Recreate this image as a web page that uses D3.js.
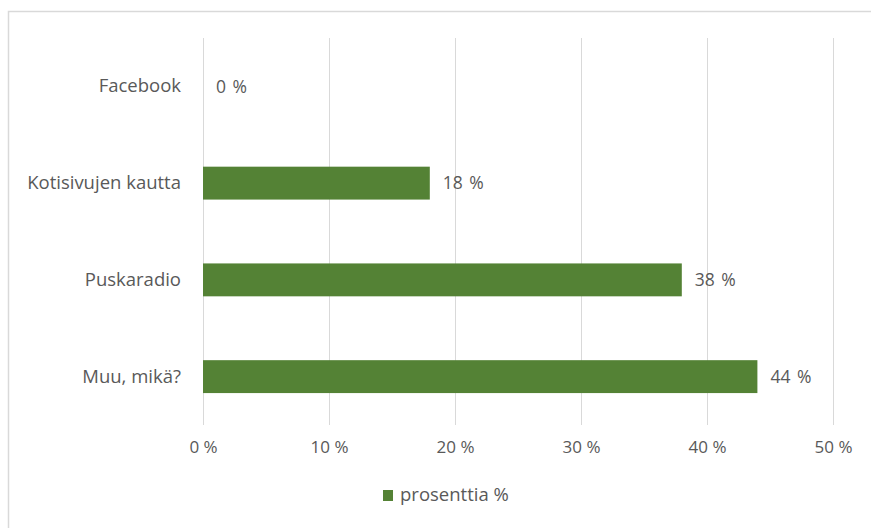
<!DOCTYPE html>
<html><head><meta charset="utf-8">
<script src="https://cdn.jsdelivr.net/npm/d3@7"></script>
<style>
body{margin:0;background:#fff;}
svg{display:block;}
text{font-family:"Open Sans",sans-serif;fill:#595959;}
</style></head>
<body><svg id="c" width="871" height="528"></svg>
<script>
const categories = ["Facebook","Kotisivujen kautta","Puskaradio","Muu, mikä?"];
const values = [0,18,38,44];
const ticks = [0,10,20,30,40,50];
const seriesName = "prosenttia %";

const svg = d3.select("#c");
// chart border
svg.append("rect").attr("x",8.5).attr("y",11.5).attr("width",880).attr("height",540)
  .attr("fill","none").attr("stroke","#d9d9d9").attr("stroke-width",1.5);

const x = d3.scaleLinear().domain([0,50]).range([203,833]);
const y = d3.scaleBand().domain(categories).range([38,425]).paddingInner(0.66).paddingOuter(0.33);

// gridlines
svg.append("g").selectAll("line").data(ticks).join("line")
  .attr("x1",d=>Math.round(x(d))+0.5).attr("x2",d=>Math.round(x(d))+0.5)
  .attr("y1",38).attr("y2",425).attr("stroke","#d9d9d9").attr("stroke-width",1);

// x axis labels
const xa = d3.axisBottom(x).tickValues(ticks).tickSize(0).tickPadding(0).tickFormat(d=>d+" %");
const gx = svg.append("g").attr("transform","translate(0,441)").call(xa);
gx.select(".domain").remove();
gx.selectAll("text").attr("font-size",17).attr("fill","#595959").style("font-family","'Open Sans',sans-serif");

// y axis labels
const ya = d3.axisLeft(y).tickSize(0).tickPadding(0);
const gy = svg.append("g").attr("transform","translate(181,0)").call(ya);
gy.select(".domain").remove();
gy.selectAll("text").attr("font-size",18.5).attr("fill","#595959").style("font-family","'Open Sans',sans-serif");

// value labels
svg.append("g").selectAll("text").data(values).join("text")
  .attr("x",d=>x(d)+13).attr("y",(d,i)=>y(categories[i])+y.bandwidth()/2)
  .attr("dy","0.35em").attr("font-size",17.5).attr("word-spacing",2).text(d=>d+" %");

// bars
svg.append("g").selectAll("rect").data(values).join("rect")
  .attr("x",x(0)).attr("y",(d,i)=>y(categories[i]))
  .attr("width",d=>x(d)-x(0)).attr("height",y.bandwidth()).attr("fill","#548235");

// legend
const lg = svg.append("g");
lg.append("rect").attr("x",383).attr("y",490).attr("width",10).attr("height",11).attr("fill","#548235");
lg.append("text").attr("x",400).attr("y",495).attr("dy","0.35em").attr("font-size",18.5).text(seriesName);
</script></body></html>
